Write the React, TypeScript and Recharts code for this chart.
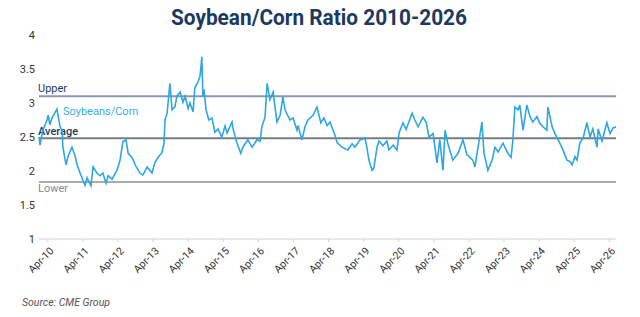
import { LineChart, Line, XAxis, YAxis, ReferenceLine } from "recharts";

// decimal years
const years = [
  2010.0, 2010.03, 2010.11, 2010.23, 2010.26, 2010.31, 2010.37, 2010.51, 2010.6, 2010.66, 2010.68, 2010.77, 2010.83, 2010.94,
  2011.03, 2011.08, 2011.17, 2011.31, 2011.37, 2011.48, 2011.54, 2011.65, 2011.74, 2011.82, 2011.91, 2011.97,
  2012.08, 2012.22, 2012.31, 2012.39, 2012.48, 2012.54, 2012.65, 2012.74, 2012.88, 2012.96,
  2013.08, 2013.22, 2013.3, 2013.39, 2013.5, 2013.53, 2013.56, 2013.59, 2013.65, 2013.73, 2013.79, 2013.87, 2013.93,
  2014.02, 2014.1, 2014.16, 2014.25, 2014.3, 2014.39, 2014.44, 2014.53, 2014.59, 2014.64, 2014.67, 2014.7, 2014.76, 2014.84, 2014.93,
  2015.01, 2015.1, 2015.21, 2015.3, 2015.36, 2015.5, 2015.53, 2015.64, 2015.75, 2015.81, 2015.95,
  2016.07, 2016.21, 2016.3, 2016.35, 2016.44, 2016.5, 2016.58, 2016.67, 2016.78, 2016.87, 2016.95,
  2017.01, 2017.15, 2017.24, 2017.35, 2017.38, 2017.49, 2017.58, 2017.66, 2017.81, 2017.92,
  2018.03, 2018.12, 2018.21, 2018.29, 2018.43, 2018.49, 2018.63, 2018.8, 2018.92,
  2019.0, 2019.15, 2019.29, 2019.34, 2019.4, 2019.49, 2019.54, 2019.63, 2019.69, 2019.8, 2019.91, 2019.97,
  2020.09, 2020.2, 2020.26, 2020.37, 2020.46, 2020.63, 2020.71, 2020.8, 2020.94,
  2021.03, 2021.11, 2021.23, 2021.34, 2021.42, 2021.51, 2021.57, 2021.65, 2021.79, 2021.94,
  2022.08, 2022.19, 2022.36, 2022.42, 2022.51, 2022.62, 2022.68, 2022.79, 2022.91, 2022.99,
  2023.08, 2023.22, 2023.36, 2023.45, 2023.5, 2023.56, 2023.65, 2023.7, 2023.79, 2023.9, 2023.99,
  2024.07, 2024.19, 2024.27, 2024.36, 2024.47, 2024.5, 2024.62, 2024.7, 2024.84, 2024.93,
  2025.04, 2025.13, 2025.19, 2025.27, 2025.33, 2025.41, 2025.5, 2025.61, 2025.7, 2025.78, 2025.9, 2025.93,
  2026.04, 2026.18, 2026.27, 2026.35, 2026.44,
];

const ratio = [
  2.5, 2.38, 2.6, 2.75, 2.82, 2.68, 2.78, 2.91, 2.65, 2.6, 2.35, 2.09, 2.22, 2.35,
  2.22, 2.1, 1.97, 1.79, 1.9, 1.78, 2.06, 1.97, 1.93, 1.97, 1.82, 1.93,
  1.88, 2.01, 2.16, 2.43, 2.46, 2.26, 2.2, 2.09, 1.97, 1.94,
  2.06, 1.97, 2.12, 2.2, 2.27, 2.34, 2.4, 2.75, 2.85, 3.29, 2.9, 2.94, 3.1,
  3.16, 3.01, 3.1, 2.92, 3.0, 2.87, 3.22, 3.31, 3.4, 3.68, 3.09, 3.2, 2.9, 2.75, 2.78,
  2.57, 2.62, 2.5, 2.66, 2.56, 2.72, 2.62, 2.41, 2.26, 2.35, 2.46,
  2.35, 2.46, 2.44, 2.65, 2.79, 3.29, 3.05, 3.16, 2.72, 2.82, 3.09,
  2.9, 2.75, 2.78, 2.6, 2.67, 2.46, 2.65, 2.75, 2.82, 2.94,
  2.71, 2.78, 2.67, 2.72, 2.53, 2.42, 2.35, 2.31, 2.4,
  2.35, 2.46, 2.48, 2.35, 2.16, 2.01, 2.04, 2.35, 2.44, 2.37, 2.44, 2.31,
  2.38, 2.31, 2.56, 2.71, 2.61, 2.85, 2.75, 2.65, 2.79,
  2.72, 2.5, 2.55, 2.12, 2.46, 2.01, 2.6, 2.4, 2.16, 2.26,
  2.46, 2.24, 2.16, 2.06, 2.35, 2.72, 2.26, 2.01, 2.16, 2.35,
  2.28, 2.41, 2.26, 2.2, 2.44, 2.94, 2.9, 2.97, 2.6, 2.97, 2.8,
  2.72, 2.8, 2.7, 2.65, 2.6, 2.94, 2.65, 2.55, 2.41, 2.31,
  2.16, 2.14, 2.09, 2.21, 2.16, 2.41, 2.48, 2.71, 2.5, 2.62, 2.35, 2.62,
  2.44, 2.71, 2.55, 2.63, 2.65,
];

const tickYears = [2010.25, 2011.25, 2012.25, 2013.25, 2014.25, 2015.25, 2016.25, 2017.25, 2018.25, 2019.25, 2020.25, 2021.25, 2022.25, 2023.25, 2024.25, 2025.25, 2026.25];
const tickLabels = ["Apr-10", "Apr-11", "Apr-12", "Apr-13", "Apr-14", "Apr-15", "Apr-16", "Apr-17", "Apr-18", "Apr-19", "Apr-20", "Apr-21", "Apr-22", "Apr-23", "Apr-24", "Apr-25", "Apr-26"];
const yTicks = [1, 1.5, 2, 2.5, 3, 3.5, 4];

const UPPER = 3.1;
const AVERAGE = 2.48;
const LOWER = 1.84;

const data = years.map((t, i) => ({ t, v: ratio[i] }));

const FONT = "Roboto, 'DejaVu Sans', sans-serif";

function XTick({ x, y, payload }: any) {
  const i = tickYears.indexOf(payload.value);
  return (
    <g transform={`translate(${x + 4},${y + 5})`}>
      <text textAnchor="end" transform="rotate(-45)" dy="0.35em" fontSize={10.5} fill="#333" fontFamily={FONT}>
        {tickLabels[i]}
      </text>
    </g>
  );
}

function refLabel(text: string, color: string, dy: number, weight = 400) {
  return (props: any) => {
    const vb = props.viewBox;
    return (
      <text x={vb.x - 1} y={vb.y + dy} fontSize={11} fill={color} fontWeight={weight} fontFamily={FONT}>
        {text}
      </text>
    );
  };
}

export default function App() {
  return (
    <div style={{ position: "absolute", left: 0, top: 0, width: 640, height: 317, background: "#fff" }}>
      <svg width={640} height={34} style={{ position: "absolute", left: 0, top: 0 }}>
        <text x={171} y={25} fontSize={22} fontWeight={700} fill="#1c3a5e" fontFamily={FONT} textLength={296} lengthAdjust="spacingAndGlyphs">
          Soybean/Corn Ratio 2010-2026
        </text>
      </svg>
      <div style={{ position: "absolute", left: 0, top: 0 }}>
        <LineChart width={640} height={317} data={data} margin={{ top: 35, right: 24, left: 0, bottom: 38 }}>
          <XAxis
            type="number"
            dataKey="t"
            domain={[2010, 2026.44]}
            ticks={tickYears}
            interval={0}
            tick={<XTick />}
            height={40}
            axisLine={{ stroke: "#e0e0e0", strokeWidth: 1.5 }}
            tickLine={{ stroke: "#d0d0d0" }}
            tickSize={3}
          />
          <YAxis
            domain={[1, 4]}
            ticks={yTicks}
            interval={0}
            width={39}
            axisLine={false}
            tickLine={false}
            tickSize={3}
            tickMargin={1}
            tick={{ fontSize: 11, fill: "#333", fontFamily: FONT }}
          />
          <ReferenceLine y={UPPER} stroke="#8c95b0" strokeWidth={2} label={refLabel("Upper", "#1c3a5e", -4)} />
          <ReferenceLine y={AVERAGE} stroke="#767b84" strokeWidth={2} label={refLabel("Average", "#1c3a5e", -3, 500)} />
          <ReferenceLine y={LOWER} stroke="#ababab" strokeWidth={2} label={refLabel("Lower", "#888", 10)} />
          <Line
            type="linear"
            dataKey="v"
            stroke="#2ea7e0"
            strokeWidth={1.6}
            dot={false}
            isAnimationActive={false}
          />
        </LineChart>
      </div>
      <div style={{ position: "absolute", left: 63, top: 106, fontSize: 11, color: "#3aaee3", fontFamily: FONT, lineHeight: "12px" }}>
        Soybeans/Corn
      </div>
      <div style={{ position: "absolute", left: 22, top: 296, fontSize: 10.5, color: "#555", fontStyle: "italic", fontFamily: FONT }}>
        Source: CME Group
      </div>
    </div>
  );
}
